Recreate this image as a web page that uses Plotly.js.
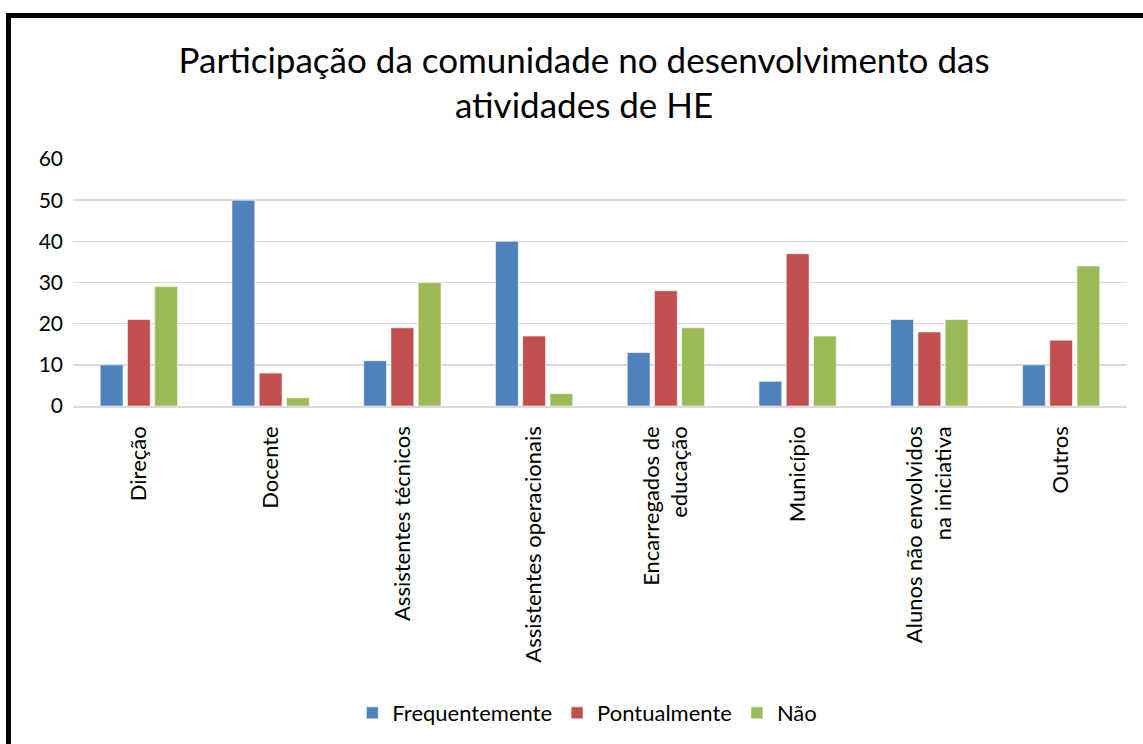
<!DOCTYPE html>
<html>
<head>
<meta charset="utf-8">
<script src="https://cdn.plot.ly/plotly-3.0.1.min.js"></script>
<style>
html,body{margin:0;padding:0;background:#fff;overflow:hidden;}
#chart{width:1143px;height:744px;}
#frame{position:absolute;left:6px;top:13px;width:1160px;height:760px;border:5px solid #000;pointer-events:none;box-sizing:border-box;}
</style>
</head>
<body>
<div id="chart"></div>
<div id="frame"></div>
<script>
const categories = ["Direção","Docente","Assistentes técnicos","Assistentes operacionais","Encarregados de<br>educação","Município","Alunos não envolvidos<br>na iniciativa","Outros"];
const frequentemente = [10,50,11,40,13,6,21,10];
const pontualmente = [21,8,19,17,28,37,18,16];
const nao = [29,2,30,3,19,17,21,34];
const seriesNames = ["Frequentemente","Pontualmente","Não"];
const colors = ["#4F81BD","#C0504D","#9BBB59"];
const yTicks = [0,10,20,30,40,50,60];

const FONT = "Lato, 'Open Sans', sans-serif";
const data = [frequentemente, pontualmente, nao].map((vals,i)=>({
  type:"bar", x:categories, y:vals, name:seriesNames[i],
  marker:{color:colors[i], line:{color:"rgba(255,255,255,0.6)", width:1}},
  hoverinfo:"x+y"
}));

const layout = {
  width:1143, height:744,
  paper_bgcolor:"rgba(0,0,0,0)", plot_bgcolor:"rgba(0,0,0,0)",
  margin:{l:73, r:16, t:159, b:337},
  font:{family:FONT, color:"#000", size:22},
  title:{text:"Participação da comunidade no desenvolvimento das<br>atividades de HE",
         font:{family:FONT, size:35, color:"#000"}, x:0.511, xanchor:"center",
         y:0.902, yanchor:"middle", yref:"container"},
  barmode:"group", bargap:0.38, bargroupgap:0.16,
  xaxis:{tickangle:-90, tickfont:{size:22, family:FONT}, showgrid:false,
         showline:true, linecolor:"#D9D9D9", linewidth:1.5, ticks:"", automargin:false,
         ticklabelstandoff:10},
  yaxis:{range:[0,60], tickvals:yTicks, ticktext:yTicks.map(String), tickfont:{size:21, family:FONT},
         showgrid:true, gridcolor:"#D9D9D9", gridwidth:1.5, zeroline:false, ticks:"",
         showline:false, automargin:false, ticklabelstandoff:9},
  showlegend:true,
  legend:{orientation:"h", x:0.488, xanchor:"center", y:-1.234, yanchor:"middle",
          font:{size:22, family:FONT}, itemwidth:30, traceorder:"normal"}
};
Plotly.newPlot("chart", data, layout, {displayModeBar:false, staticPlot:true});
</script>
</body>
</html>
